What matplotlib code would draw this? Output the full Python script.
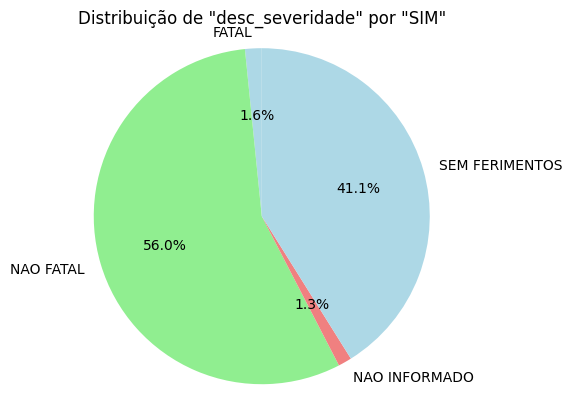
import matplotlib
matplotlib.use("Agg")
import matplotlib.pyplot as plt

# Dados
categorias = ['FATAL', 'NAO FATAL', 'NAO INFORMADO', 'SEM FERIMENTOS']
percentuais = [1.6, 56.0, 1.3, 41.1]
cores = ['lightblue', 'lightgreen', 'lightcoral']

fig, ax = plt.subplots(figsize=(6.4, 4.8), dpi=100)
ax.pie(percentuais, labels=categorias, colors=cores, autopct='%1.1f%%', startangle=90)
ax.axis('equal')
ax.set_title('Distribuição de "desc_severidade" por "SIM"')

fig.savefig('out.png', bbox_inches='tight')
